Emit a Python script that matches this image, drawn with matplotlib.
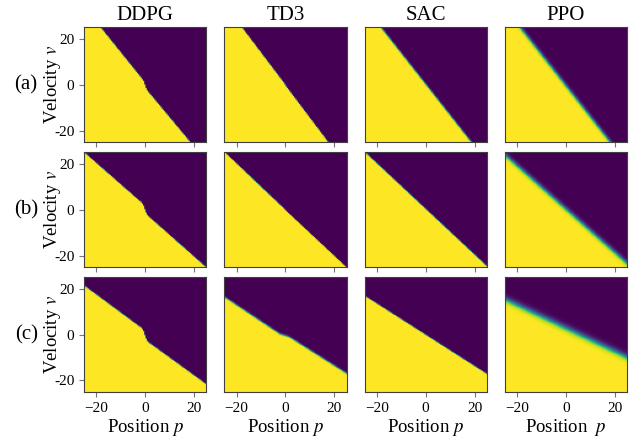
import numpy as np
import matplotlib
matplotlib.use('Agg')
import matplotlib.pyplot as plt

plt.rcParams['font.family'] = ['Liberation Serif', 'DejaVu Serif']
plt.rcParams['mathtext.fontset'] = 'stix'

algos = ['DDPG', 'TD3', 'SAC', 'PPO']
row_tags = ['(a)', '(b)', '(c)']
ticks = [-20, 0, 20]
ytick_labels = ['-20', '0', '20']
xlabels = ['Position $p$', 'Position $p$', 'Position $p$', 'Position  $p$']

# decision boundary of each policy: velocity v on the boundary at position p
# row (a)
ddpg_a_p = [-25, -1.8, -0.8, 0.5, 25]
ddpg_a_v = [33.9, 3.1, 1.7, -2.3, -33.7]
td3_a_p = [-25, -0.5, 0.3, 25]
td3_a_v = [35.2, 0.6, -0.8, -35.8]
sac_a_p = [-25, 25]
sac_a_v = [33.7, -34.2]
ppo_a_p = [-25, 25]
ppo_a_v = [33.3, -34.8]
# row (b)
ddpg_b_p = [-25, -2.5, -1.6, -0.8, 0.0, 0.6, 1.4, 25]
ddpg_b_v = [25.0, 3.9, 3.2, 1.8, -0.6, -2.2, -3.1, -25.4]
td3_b_p = [-25, -0.5, 0.5, 25]
td3_b_v = [25.2, 0.4, -0.8, -25.3]
sac_b_p = [-25, 25]
sac_b_v = [25.0, -25.0]
ppo_b_p = [-25, 25]
ppo_b_v = [23.8, -23.7]
# row (c)
ddpg_c_p = [-25, -2.5, -1.6, -0.8, 0.0, 0.6, 1.4, 25]
ddpg_c_v = [21.4, 3.6, 3.0, 1.6, -1.0, -2.7, -3.5, -21.8]
td3_c_p = [-25, -2.2, -0.5, 1.5, 25]
td3_c_v = [16.5, 0.2, -0.3, -1.0, -17.0]
sac_c_p = [-25, 25]
sac_c_v = [16.8, -17.4]
ppo_c_p = [-25, 25]
ppo_c_v = [15.4, -10.0]

# how soft the edge between the two actions is
soft_a = [0.1, 0.1, 0.25, 0.55]
soft_b = [0.08, 0.08, 0.1, 0.6]
soft_c = [0.1, 0.2, 0.1, 0.75]

bounds = [
    [(ddpg_a_p, ddpg_a_v), (td3_a_p, td3_a_v), (sac_a_p, sac_a_v), (ppo_a_p, ppo_a_v)],
    [(ddpg_b_p, ddpg_b_v), (td3_b_p, td3_b_v), (sac_b_p, sac_b_v), (ppo_b_p, ppo_b_v)],
    [(ddpg_c_p, ddpg_c_v), (td3_c_p, td3_c_v), (sac_c_p, sac_c_v), (ppo_c_p, ppo_c_v)],
]
softs = [soft_a, soft_b, soft_c]

grid = np.linspace(-25, 25, 100)
P, V = np.meshgrid(grid, grid)

fig, axes = plt.subplots(3, 4, figsize=(6.38, 4.40), dpi=100)
fig.subplots_adjust(left=0.1317, right=0.9828, top=0.9386, bottom=0.1091,
                    wspace=0.1475, hspace=0.087)

for i in range(3):
    for j in range(4):
        ax = axes[i, j]
        bp, bv = bounds[i][j]
        vb = np.interp(P, bp, bv)
        Z = 1.0 / (1.0 + np.exp(-np.clip((vb - V) / softs[i][j], -50, 50)))
        ax.imshow(Z, origin='lower', extent=[-25, 25, -25, 25], aspect='auto',
                  cmap='viridis', vmin=0, vmax=1)
        for s in ax.spines.values():
            s.set_color('0.25')
        ax.tick_params(colors='0.45', labelcolor='black', labelsize=11)
        ax.set_xticks(ticks)
        if i < 2:
            ax.set_xticklabels([])
        else:
            ax.set_xlabel(xlabels[j], fontsize=13.5, labelpad=2)
        if j == 0:
            ax.set_yticks(ticks)
            ax.set_yticklabels(ytick_labels)
            ax.set_ylabel('Velocity $v$', fontsize=13.5)
            ax.yaxis.set_label_coords(-0.175, 0.5)
        else:
            ax.set_yticks([])
        if i == 0:
            ax.set_title(algos[j], fontsize=15, pad=5)
    pos = axes[i, 0].get_position()
    fig.text(0.041, (pos.y0 + pos.y1) / 2, row_tags[i], fontsize=15,
             ha='center', va='center')

fig.savefig('out.png', dpi=100)
